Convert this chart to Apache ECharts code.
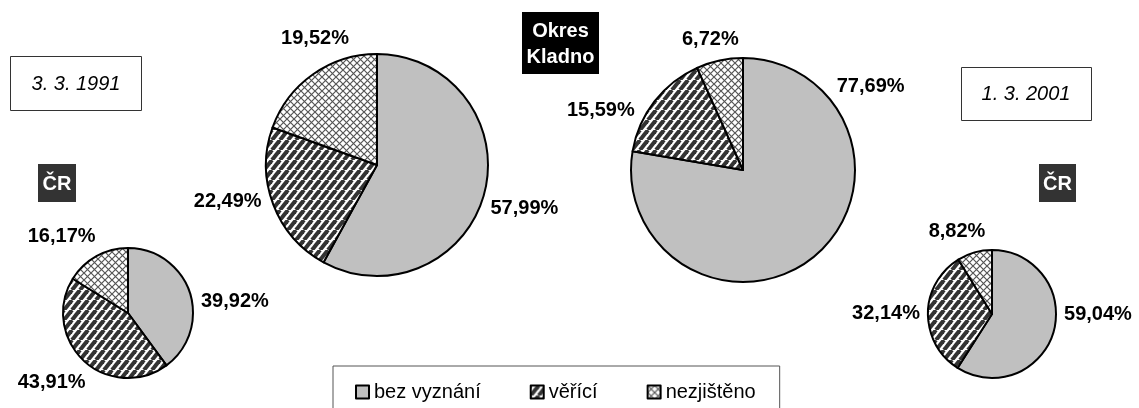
<!DOCTYPE html>
<html>
<head>
<meta charset="utf-8">
<script src="https://cdn.jsdelivr.net/npm/echarts@6/dist/echarts.min.js"></script>
<style>
  html, body { margin: 0; padding: 0; background: #fff; }
  #chart { width: 1139px; height: 408px; }
</style>
</head>
<body>
<div id="chart"></div>
<script>
const categories = ['bez vyznání', 'věřící', 'nezjištěno'];
const cr1991 = [39.92, 43.91, 16.17];
const kladno1991 = [57.99, 22.49, 19.52];
const kladno2001 = [77.69, 15.59, 6.72];
const cr2001 = [59.04, 32.14, 8.82];

const FONT = 'Liberation Sans, Arial, sans-serif';

// pie placement (pixels) and how far each label is turned off its slice middle
const pies = [
  { values: cr1991, cx: 128, cy: 313, r: 65, nudge: [12, 5, -12] },
  { values: kladno1991, cx: 377, cy: 165, r: 111, nudge: [2, 7, 9] },
  { values: kladno2001, cx: 743, cy: 170, r: 112, nudge: [-83, -15, -2] },
  { values: cr2001, cx: 992, cy: 314, r: 64, nudge: [-16, 0, -7] }
];
const labelGap = 8;

// fills: plain grey, dark diagonal stripes, light cross hatch
function stripes() {
  const a = 8, b = 10;
  const c = document.createElement('canvas');
  c.width = a; c.height = b;
  const g = c.getContext('2d');
  g.fillStyle = '#fff';
  g.fillRect(0, 0, a, b);
  g.strokeStyle = '#333';
  g.lineWidth = 4;
  [-a, 0, a].forEach(function (o) {
    g.beginPath();
    g.moveTo(o, b);
    g.lineTo(o + a, 0);
    g.stroke();
  });
  return { image: c, repeat: 'repeat' };
}
function crosshatch() {
  const s = 7;
  const c = document.createElement('canvas');
  c.width = s; c.height = s;
  const g = c.getContext('2d');
  g.fillStyle = '#fff';
  g.fillRect(0, 0, s, s);
  g.strokeStyle = '#555';
  g.lineWidth = 1.2;
  g.beginPath();
  g.moveTo(0, 0); g.lineTo(s, s);
  g.moveTo(0, s); g.lineTo(s, 0);
  g.stroke();
  return { image: c, repeat: 'repeat' };
}
const fills = ['#c0c0c0', stripes(), crosshatch()];

function placeLabel(p) {
  const total = p.values.reduce(function (s, v) { return s + v; }, 0);
  return function (params) {
    let before = 0;
    for (let k = 0; k < params.dataIndex; k++) before += p.values[k];
    const mid = (before + p.values[params.dataIndex] / 2) / total * 360 + p.nudge[params.dataIndex];
    const rad = mid * Math.PI / 180;
    const dx = Math.sin(rad), dy = -Math.cos(rad);
    const w = params.labelRect.width, h = 15;
    const d = p.r + labelGap + Math.abs(dx) * w / 2 + Math.abs(dy) * h / 2;
    return { x: p.cx + dx * d, y: p.cy + dy * d, align: 'center', verticalAlign: 'middle' };
  };
}

const chart = echarts.init(document.getElementById('chart'), null, { renderer: 'canvas' });

chart.setOption({
  backgroundColor: '#fff',
  animation: false,
  legend: {
    data: categories,
    left: 333,
    top: 366,
    padding: [16, 24, 30, 22],
    borderColor: '#555',
    borderWidth: 1,
    icon: 'rect',
    itemWidth: 13,
    itemHeight: 13,
    itemGap: 49,
    selectedMode: false,
    itemStyle: { borderColor: '#000', borderWidth: 2 },
    textStyle: { fontFamily: FONT, fontSize: 20, color: '#000' }
  },
  graphic: [
    { type: 'rect', shape: { x: 10.5, y: 56.5, width: 131, height: 54 },
      style: { fill: '#fff', stroke: '#333', lineWidth: 1 } },
    { type: 'text', x: 76, y: 84,
      style: { text: '3. 3. 1991', font: 'italic 20px ' + FONT, fill: '#000', align: 'center', verticalAlign: 'middle' } },
    { type: 'rect', shape: { x: 961.5, y: 67.5, width: 130, height: 53 },
      style: { fill: '#fff', stroke: '#333', lineWidth: 1 } },
    { type: 'text', x: 1026, y: 94,
      style: { text: '1. 3. 2001', font: 'italic 20px ' + FONT, fill: '#000', align: 'center', verticalAlign: 'middle' } },
    { type: 'rect', shape: { x: 38, y: 164, width: 38, height: 38 }, style: { fill: '#333' } },
    { type: 'text', x: 57, y: 184,
      style: { text: 'ČR', font: 'bold 20px ' + FONT, fill: '#fff', align: 'center', verticalAlign: 'middle' } },
    { type: 'rect', shape: { x: 1039, y: 164, width: 37, height: 38 }, style: { fill: '#333' } },
    { type: 'text', x: 1057.5, y: 184,
      style: { text: 'ČR', font: 'bold 20px ' + FONT, fill: '#fff', align: 'center', verticalAlign: 'middle' } },
    { type: 'rect', shape: { x: 522, y: 12, width: 77, height: 62 }, style: { fill: '#000' } },
    { type: 'text', x: 560.5, y: 44,
      style: { text: 'Okres\nKladno', font: 'bold 20px ' + FONT, lineHeight: 26, fill: '#fff', align: 'center', verticalAlign: 'middle' } }
  ],
  series: pies.map(function (p) {
    return {
      type: 'pie',
      center: [p.cx, p.cy],
      radius: p.r,
      startAngle: 90,
      clockwise: true,
      avoidLabelOverlap: false,
      emphasis: { disabled: true },
      itemStyle: { borderColor: '#000', borderWidth: 2 },
      label: {
        show: true,
        position: 'outside',
        fontFamily: FONT,
        fontSize: 20,
        fontWeight: 'bold',
        color: '#000',
        formatter: function (d) { return d.value.toFixed(2).replace('.', ',') + '%'; }
      },
      labelLine: { show: false },
      labelLayout: placeLabel(p),
      data: categories.map(function (name, i) {
        return { name: name, value: p.values[i], itemStyle: { color: fills[i] } };
      })
    };
  })
});
</script>
</body>
</html>
